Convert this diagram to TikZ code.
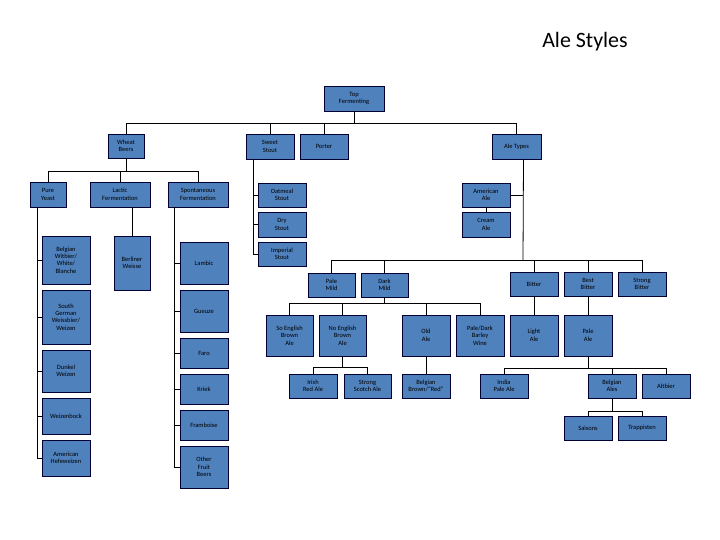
\documentclass[tikz,border=0pt]{standalone}
\usepackage{fontspec}
\setmainfont{Carlito}
\begin{document}
\begin{tikzpicture}[x=1bp,y=-1bp,
  box/.style={draw=black!80!blue, fill=blue!35!black!15!cyan!0, fill={rgb,255:red,79;green,129;blue,189}, align=center, inner sep=0pt, font=\fontsize{6.5}{7.5}\selectfont, line width=0.6pt},
  ln/.style={draw, line width=0.8pt}]
\useasboundingbox (0,0) rectangle (720,540);
\newcommand\bx[6]{\node[box, minimum width={(#4-#2)*1bp}, minimum height={(#5-#3)*1bp}] (#1) at ({(#2+#4)/2},{(#3+#5)/2}) {#6};}
\node[font=\fontsize{22}{26}\selectfont] (title) at (585,42) {Ale Styles};
\bx{top}{324}{86}{384}{111}{Top\\Fermenting}
\bx{wheat}{108}{134}{144}{158}{Wheat\\Beers}
\bx{sweet}{246}{134}{294}{159}{Sweet\\Stout}
\bx{porter}{300}{134}{348}{159}{Porter}
\bx{aletypes}{492}{134}{541}{159}{Ale Types}
\bx{pure}{30}{182}{66}{207}{Pure\\Yeast}
\bx{lactic}{90}{182}{150}{207}{Lactic\\Fermentation}
\bx{spont}{168}{182}{228}{207}{Spontaneous\\Fermentation}
\bx{witbier}{42}{236}{90}{284}{Belgian\\Witbier/\\White/\\Blanche}
\bx{southg}{42}{290}{90}{344}{South\\German\\Weissbier/\\Weizen}
\bx{dunkel}{42}{350}{90}{392}{Dunkel\\Weizen}
\bx{weizenbock}{42}{398}{90}{434}{Weizenbock}
\bx{amhefe}{42}{440}{90}{476}{American\\Hefeweizen}
\bx{berliner}{114}{236}{150}{290}{Berliner\\Weisse}
\bx{lambic}{180}{242}{228}{284}{Lambic}
\bx{gueuze}{180}{290}{228}{332}{Gueuze}
\bx{faro}{180}{338}{228}{368}{Faro}
\bx{kriek}{180}{374}{228}{404}{Kriek}
\bx{framboise}{180}{410}{228}{440}{Framboise}
\bx{otherfruit}{180}{446}{228}{488}{Other\\Fruit\\Beers}
\bx{oatmeal}{258}{183}{306}{207}{Oatmeal\\Stout}
\bx{dry}{258}{212}{306}{237}{Dry\\Stout}
\bx{imperial}{258}{242}{306}{266}{Imperial\\Stout}
\bx{american}{462}{183}{510}{207}{American\\Ale}
\bx{cream}{462}{212}{510}{237}{Cream\\Ale}
\bx{palemild}{308}{273}{355}{297}{Pale\\Mild}
\bx{darkmild}{361}{273}{408}{297}{Dark\\Mild}
\bx{bitter}{510}{272}{558}{296}{Bitter}
\bx{bestbitter}{564}{272}{612}{296}{Best\\Bitter}
\bx{strongbitter}{618}{272}{666}{296}{Strong\\Bitter}
\bx{soeng}{266}{315}{313}{356}{So English\\Brown\\Ale}
\bx{noeng}{319}{315}{366}{356}{No English\\Brown\\Ale}
\bx{oldale}{402}{315}{450}{356}{Old\\Ale}
\bx{barley}{456}{315}{504}{356}{Pale/Dark\\Barley\\Wine}
\bx{light}{510}{315}{558}{356}{Light\\Ale}
\bx{paleale}{564}{315}{612}{356}{Pale\\Ale}
\bx{irish}{289}{374}{337}{398}{Irish\\Red Ale}
\bx{scotch}{344}{374}{391}{398}{Strong\\Scotch Ale}
\bx{belgbrown}{402}{374}{450}{398}{Belgian\\Brown/``Red''}
\bx{ipa}{480}{374}{528}{398}{India\\Pale Ale}
\bx{belgales}{588}{374}{636}{398}{Belgian\\Ales}
\bx{altbier}{642}{374}{690}{398}{Altbier}
\bx{saisons}{564}{416}{612}{440}{Saisons}
\bx{trappisten}{618}{416}{666}{440}{Trappisten}
% connectors
\foreach \c in {wheat,sweet,porter,aletypes} \draw[ln] (top.south) -- (top.south |- 0,123) -| (\c.north);
\foreach \c in {pure,lactic,spont} \draw[ln] (wheat.south) -- (wheat.south |- 0,171) -| (\c.north);
\foreach \c in {witbier,southg,dunkel,weizenbock,amhefe} \draw[ln] ([xshift=-11bp]pure.south) |- (\c.west);
\draw[ln] (lactic.south -| berliner.north) -- (berliner.north);
\foreach \c in {lambic,gueuze,faro,kriek,framboise,otherfruit} \draw[ln] ([xshift=-24bp]spont.south) |- (\c.west);
\foreach \c in {oatmeal,dry,imperial} \draw[ln] ([xshift=-17bp]sweet.south) |- (\c.west);
\coordinate (atv) at (523,260);
\draw[ln] ([xshift=7bp]aletypes.south) -- (atv);
\draw[ln] (american.east) -- (american.east -| atv);
\draw[ln] (american.south) -- (cream.north);
\foreach \c in {palemild,darkmild,bitter,bestbitter,strongbitter} \draw[ln] (atv) -| (\c.north);
\foreach \c in {soeng,noeng,oldale,barley} \draw[ln] (darkmild.south) -- (darkmild.south |- 0,303) -| (\c.north);
\draw[ln] (bitter.south) -- (light.north);
\draw[ln] (bestbitter.south) -- (paleale.north);
\foreach \c in {irish,scotch} \draw[ln] (noeng.south) -- (noeng.south |- 0,367) -| (\c.north);
\draw[ln] (oldale.south) -- (belgbrown.north);
\foreach \c in {ipa,belgales,altbier} \draw[ln] (paleale.south) -- (paleale.south |- 0,368) -| (\c.north);
\foreach \c in {saisons,trappisten} \draw[ln] (belgales.south) -- (belgales.south |- 0,411) -| (\c.north);
\end{tikzpicture}
\end{document}
